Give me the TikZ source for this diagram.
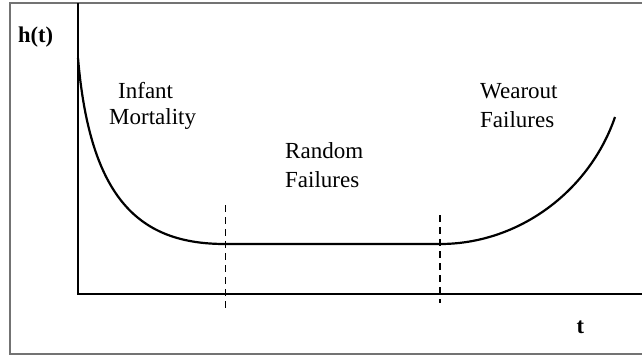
\documentclass[tikz,border=0pt]{standalone}
\usepackage{fontspec}
\setmainfont{Liberation Serif}
\begin{document}
\begin{tikzpicture}[x=1pt,y=-1pt,
  frame/.style={draw=gray!90!black,line width=2.5pt},
  axis/.style={draw=black,line width=2.2pt},
  hazard/.style={draw=black,line width=2.2pt},
  divider/.style={draw=black,line width=1.8pt,dash pattern=on 7pt off 5pt},
  lbl/.style={anchor=base west,inner sep=0pt,font=\fontsize{23}{27}\selectfont},
  axlbl/.style={anchor=base west,inner sep=0pt,font=\fontsize{22.5}{27}\selectfont\bfseries}]
\useasboundingbox (0,0) rectangle (642,356);
% frame
\coordinate (ftr) at (642,3);
\coordinate (ftl) at (10,3);
\coordinate (fbl) at (10,354);
\coordinate (fbr) at (642,354);
\draw[frame] (ftr) -- (ftl) -- (fbl) -- (fbr);
% axes
\coordinate (ytop) at (78,3);
\coordinate (origin) at (78,294);
\coordinate (xend) at (642,294);
\draw[axis] (ytop) -- (origin) -- (xend);
% hazard curve
\coordinate (c0) at (78,58);
\coordinate (c1) at (225,244);
\coordinate (c2) at (440,244);
\coordinate (c3) at (615,117);
\draw[hazard] (c0) .. controls (90,200) and (140,244) .. (c1)
  -- (c2) .. controls (520,244) and (590,190) .. (c3);
% dividers
\coordinate (d1t) at (225.5,205);
\coordinate (d1b) at (225.5,308);
\coordinate (d2t) at (440,215);
\coordinate (d2b) at (440,303);
\draw[divider] (d1t) -- (d1b);
\draw[divider] (d2t) -- (d2b);
% labels
\node[axlbl] (ht) at (18,42) {h(t)};
\node[axlbl] (tl) at (576.5,333) {t};
\node[lbl] (inf) at (118,98) {Infant};
\node[lbl] (mor) at (109,124) {Mortality};
\node[lbl] (ran) at (285,158) {Random};
\node[lbl] (fa1) at (285,187) {Failures};
\node[lbl] (wea) at (480,98) {Wearout};
\node[lbl] (fa2) at (480,127) {Failures};
\end{tikzpicture}
\end{document}
